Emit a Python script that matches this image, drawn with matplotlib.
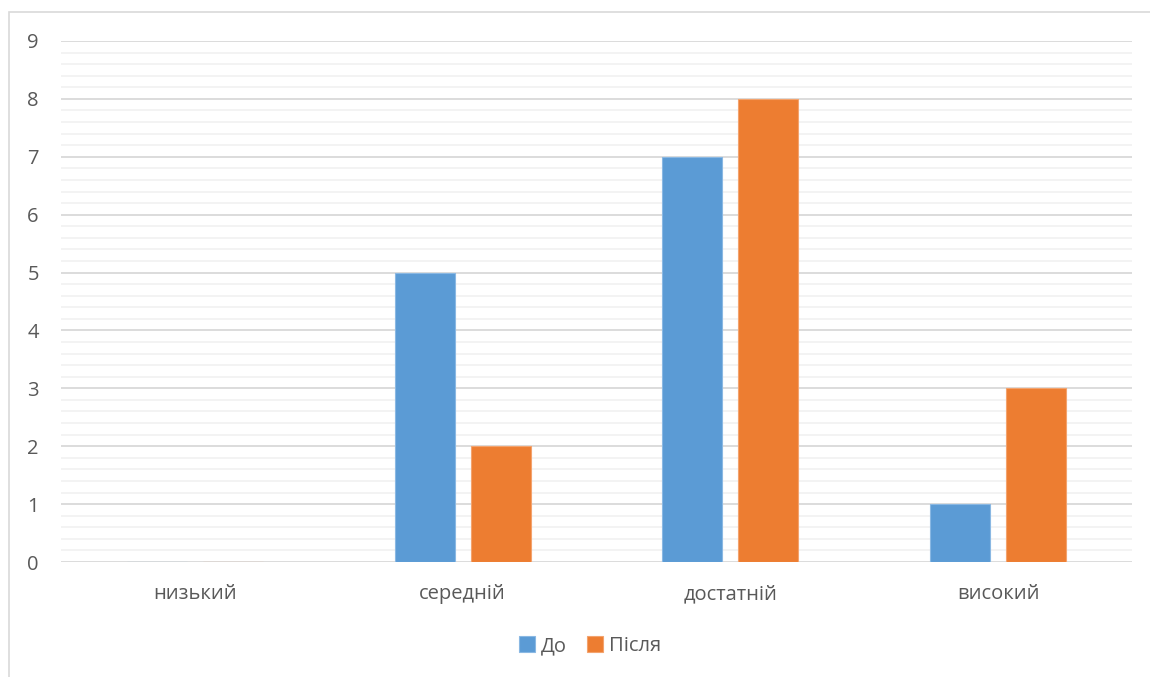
import matplotlib
matplotlib.use("Agg")
import matplotlib.pyplot as plt
from matplotlib.patches import Rectangle
import numpy as np

categories = ["низький", "середній", "достатній", "високий"]
before = [0, 5, 7, 1]
after = [0, 2, 8, 3]
series_names = ["До", "Після"]
y_ticks = list(range(0, 10))

plt.rcParams['font.family'] = ['Open Sans', 'DejaVu Sans']

W, H = 1150, 677
fig = plt.figure(figsize=(W / 100, H / 100), dpi=100)

# outer chart frame (only left and top edges are visible)
fig.patches.append(Rectangle((9 / W, -0.1), 1.2, 1 - 12 / H + 0.1,
                             transform=fig.transFigure, fill=False,
                             edgecolor="#d9d9d9", linewidth=1.2, zorder=0))

ax = fig.add_axes([61 / W, 1 - 562 / H, (1132 - 61) / W, (562 - 41) / H])

x = np.arange(len(categories))
bw = 0.224
off = 0.142
blue = "#5b9bd5"
orange = "#ed7d31"
ax.bar(x - off, before, bw, color=blue, edgecolor="#8ab8e3", linewidth=0.8,
       label=series_names[0], zorder=3)
ax.bar(x + off, after, bw, color=orange, edgecolor="#f3a36e", linewidth=0.8,
       label=series_names[1], zorder=3)

ax.set_xlim(-0.5, len(categories) - 0.5)
ax.set_ylim(0, 9)
ax.set_yticks(y_ticks)
ax.set_yticks(np.arange(0, 9.01, 0.2), minor=True)
ax.grid(which="major", axis="y", color="#d9d9d9", linewidth=1.3, zorder=1)
ax.grid(which="minor", axis="y", color="#f2f2f2", linewidth=1.3, zorder=0)
ax.set_xticks(x)
ax.set_xticklabels(categories)
ax.tick_params(axis="both", which="both", length=0, colors="#595959", labelsize=14.5)
ax.tick_params(axis="y", pad=16)
ax.tick_params(axis="x", pad=16)
for s in ax.spines.values():
    s.set_visible(False)

leg = fig.legend(loc="center", bbox_to_anchor=(590 / W, 1 - 646 / H), ncol=2,
                 frameon=False, fontsize=14.5, handlelength=0.8, handleheight=0.8,
                 handletextpad=0.3, columnspacing=1.0)
for t in leg.get_texts():
    t.set_color("#595959")

fig.savefig("out.png", dpi=100)
